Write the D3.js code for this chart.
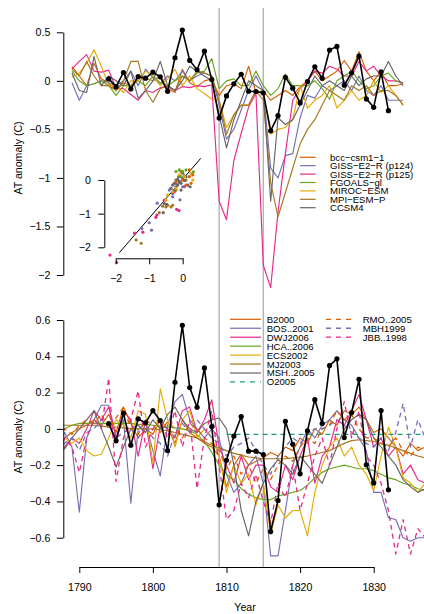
<!DOCTYPE html>
<html><head><meta charset="utf-8">
<script src="https://cdn.jsdelivr.net/npm/d3@7"></script>
<style>
body{margin:0;background:#fff;}
svg{display:block;font-family:"Liberation Sans",Arial,Helvetica,sans-serif;}
</style></head><body>
<svg id="c" width="424" height="614"></svg>
<script>
// ---------------- DATA ----------------
const volcanoYears = [1809, 1815];
const xTicks = [1790, 1800, 1810, 1820, 1830];
const topTicks = [0.5, 0, -0.5, -1, -1.5, -2];
const botTicks = [0.6, 0.4, 0.2, 0, -0.2, -0.4, -0.6];
const insetTicks = [0, -1, -2];

// observed series (black, with dots), 1794..1832
const obsStart = 1794;
const obsTop = [0.02,-0.06,0.086,-0.083,0.044,0.027,0.089,0.041,-0.108,0.238,
  0.523,0.21,0.114,0.306,0.013,-0.383,-0.155,-0.031,0.068,-0.107,
  -0.11,-0.124,-0.514,-0.359,0.037,-0.076,-0.228,-0.007,0.145,0.027,
  0.317,0.355,-0.045,0.083,0.255,-0.186,-0.273,0.093,-0.307];
const obsBot = [0.029,-0.066,0.086,-0.09,0.055,0.033,0.1,0.046,-0.12,0.257,
  0.571,0.228,0.119,0.336,0.013,-0.419,-0.173,-0.04,0.068,-0.123,
  -0.123,-0.142,-0.566,-0.395,0.042,-0.085,-0.248,-0.011,0.161,0.029,
  0.349,0.386,-0.048,0.09,0.273,-0.198,-0.298,0.101,-0.336];

// climate models, 1789..1834
const modelStart = 1789;
const modelNames = ["bcc\u2212csm1\u22121","GISS\u2212E2\u2212R (p124)","GISS\u2212E2\u2212R (p125)","FGOALS\u2212gl","MIROC\u2212ESM","MPI\u2212ESM\u2212P","CCSM4"];
const modelColors = ["#D95F02","#7570B3","#E7298A","#66A61E","#E6AB02","#A6761D","#666666"];
const bcc = [0.15,0.05,-0.05,0.18,0.02,-0.02,-0.10,-0.02,-0.05,0.05,
  0.03,0.00,0.05,-0.08,-0.12,0.12,-0.02,-0.06,0.00,0.02,
  -0.15,-0.05,-0.03,-0.08,0.15,-0.12,-0.10,-0.20,-0.15,-0.10,
  -0.15,-0.06,0.00,0.10,0.00,0.05,0.10,0.21,0.10,0.30,
  0.10,0.00,0.10,-0.05,-0.05,-0.03];
const gissP124 = [-0.02,-0.20,-0.05,-0.03,0.00,-0.02,-0.05,0.00,0.10,-0.05,
  0.12,0.03,-0.03,0.05,0.00,0.10,0.00,0.05,0.08,0.05,
  -0.25,-0.60,-0.50,-0.30,-0.10,0.05,-0.10,-0.90,-1.00,-0.77,
  -0.75,-0.38,-0.15,-0.18,-0.05,-0.10,-0.05,0.00,-0.10,0.05,
  -0.10,-0.15,-0.05,-0.20,-0.20,-0.20];
const gissP125 = [0.12,0.20,0.27,0.10,0.09,0.11,-0.08,-0.08,-0.14,-0.20,
  -0.10,-0.12,-0.07,-0.06,-0.10,-0.06,-0.07,-0.05,-0.06,-0.04,
  -1.24,-1.43,-0.82,-0.54,-0.27,-0.13,-1.90,-2.13,-1.35,-0.75,
  -0.20,-0.08,0.00,0.10,0.08,0.15,0.12,0.05,0.05,0.20,
  0.10,0.15,0.05,0.00,0.00,-0.02];
const fgoals = [0.10,0.00,-0.05,-0.03,0.00,-0.05,-0.15,-0.05,-0.05,0.00,
  -0.05,0.05,-0.02,-0.05,0.00,0.05,0.00,0.08,0.10,0.23,
  -0.08,0.00,0.02,-0.05,-0.05,0.10,-0.05,-0.15,-0.08,0.07,
  -0.05,-0.05,-0.05,0.00,-0.08,-0.19,0.00,0.05,0.10,0.00,
  -0.08,-0.05,0.05,0.08,0.00,-0.03];
const miroc = [0.04,0.08,0.18,0.32,0.15,-0.05,-0.05,-0.12,0.00,0.00,
  0.10,0.05,-0.05,0.02,0.12,-0.05,0.05,-0.08,-0.13,-0.19,
  -0.20,-0.48,-0.35,-0.25,-0.25,-0.10,-0.12,-0.55,-0.50,-0.48,
  -0.40,-0.05,-0.28,-0.20,-0.15,-0.05,-0.28,-0.20,-0.10,-0.20,
  -0.15,0.00,-0.12,-0.05,-0.15,-0.25];
const mpi = [0.12,0.05,0.20,0.05,-0.05,-0.05,-0.10,0.00,0.20,0.20,
  -0.10,-0.22,-0.08,-0.05,-0.10,0.05,0.00,0.10,0.08,0.05,
  -0.20,-0.55,-0.35,-0.25,-0.25,-0.10,-0.20,-1.05,-1.40,-1.15,
  -0.90,-0.65,-0.50,-0.40,-0.25,-0.10,-0.15,-0.20,-0.05,-0.10,
  -0.05,-0.15,-0.10,-0.10,-0.15,-0.25];
const ccsm4 = [0.08,-0.10,-0.12,0.25,-0.05,0.05,0.00,-0.05,0.10,-0.18,
  -0.10,0.00,0.20,-0.05,-0.10,0.00,0.15,0.10,0.05,0.00,
  -0.35,-0.69,-0.40,-0.20,0.00,-0.05,-0.10,-1.24,-0.38,-0.45,
  -0.40,-0.25,-0.10,0.05,-0.05,0.00,-0.05,-0.10,0.05,-0.05,
  0.02,0.05,0.05,0.20,0.05,-0.05];
const modelSeries = [bcc, gissP124, gissP125, fgoals, miroc, mpi, ccsm4];

// inset scatter (x, y, model index)
const scatX = [-2.17,-1.97,-1.44,-1.19,-0.80,-0.77,-0.18,-0.11,-0.55,-0.25,0.05,-0.10,
  -1.39,-1.24,-0.70,-0.50,-0.45,-0.35,-0.30,-0.60,-0.20,0.10,
  -1.22,-0.93,-1.00,-0.76,-0.08,-0.40,-0.20,-0.30,0.00,
  -0.58,-0.55,-0.48,-0.30,-0.25,-0.20,-0.15,-0.10,-0.05,0.00,0.05,-0.12,0.10,-0.30,-0.20,0.15,0.22,-0.05,-0.35,0.00,-0.25,-0.15,0.05,
  -0.50,-0.45,-0.30,-0.20,0.05,0.25,0.30,-0.10,
  -0.20,0.00,0.20,0.30,0.10,0.25,-0.05,0.20,
  -0.20,-0.10,0.00,0.10,-0.05,0.32];
const scatY = [-2.23,-2.45,-1.58,-1.55,-1.11,-1.04,-0.87,-0.91,-0.60,-0.35,-0.20,-0.05,
  -1.78,-1.88,-0.97,-0.80,-0.75,-0.80,-0.75,-0.78,-0.30,0.00,
  -1.44,-1.49,-1.27,-0.69,-0.59,-0.30,-0.10,-0.50,-0.20,
  -0.97,-0.70,-0.72,-0.40,-0.30,-0.20,-0.15,-0.05,-0.10,0.05,-0.02,0.10,0.10,-0.15,0.00,-0.15,-0.20,-0.30,-0.25,0.20,-0.10,0.02,0.12,
  -0.60,-0.45,-0.35,-0.25,0.10,0.20,0.00,0.15,
  -0.05,0.00,0.10,0.15,-0.15,-0.10,0.25,0.30,
  0.25,0.30,0.25,0.30,0.10,0.24];
const scatM = [2,2,2,2,2,2,2,2,2,2,2,2,
  5,5,5,5,5,5,5,5,5,5,
  1,1,1,1,1,1,1,1,1,
  6,6,6,6,6,6,6,6,6,6,6,6,6,6,6,6,6,6,6,6,6,6,6,
  4,4,4,4,4,4,4,4,
  0,0,0,0,0,0,0,0,
  3,3,3,3,3,3];
const fitX = [-1.89, 0.54];
const fitY = [-2.16, 0.645];

// reconstructions, 1786..1837
const reconStart = 1786;
const reconNames = ["B2000","BOS..2001","DWJ2006","HCA..2006","ECS2002","MJ2003","MSH..2005","O2005","RMO..2005","MBH1999","JBB..1998"];
const reconColors = ["#D95F02","#7570B3","#E7298A","#66A61E","#E6AB02","#A6761D","#666666","#1B9E77","#D95F02","#7570B3","#E7298A"];
const reconDashed = [false,false,false,false,false,false,false,true,true,true,true];
const B2000 = [-0.05,-0.08,-0.05,-0.02,0.00,0.02,0.05,0.02,0.08,-0.02,
  0.12,0.03,-0.05,0.00,-0.03,0.05,0.00,-0.08,0.05,-0.02,
  -0.05,-0.08,-0.10,-0.15,-0.32,-0.20,-0.14,-0.20,-0.18,-0.16,
  -0.13,-0.15,-0.10,-0.12,-0.05,-0.08,0.00,-0.03,0.05,0.02,
  0.10,0.08,0.12,0.05,-0.02,0.00,-0.05,-0.10,-0.15,-0.08,
  -0.12,-0.10];
const BOS2001 = [-0.05,-0.10,-0.02,-0.10,-0.46,-0.05,0.05,0.13,0.13,-0.05,
  0.05,-0.41,0.00,0.03,-0.12,-0.26,0.02,0.15,0.19,0.05,
  0.00,-0.05,0.00,-0.05,-0.25,-0.35,-0.30,-0.20,-0.15,-0.30,
  -0.70,-0.70,-0.45,-0.20,-0.10,0.00,-0.05,0.02,0.05,0.10,
  0.05,0.02,-0.05,-0.12,-0.35,-0.35,-0.49,-0.50,-0.60,-0.62,
  -0.60,-0.60];
const DWJ2006 = [-0.15,-0.12,-0.10,-0.05,-0.08,0.00,0.10,0.05,0.12,-0.05,
  0.10,0.05,-0.15,0.05,-0.22,0.02,0.00,-0.05,0.10,0.12,
  -0.02,0.05,0.16,-0.10,-0.20,-0.30,-0.15,-0.28,-0.20,-0.20,
  -0.32,-0.35,-0.20,-0.28,-0.15,-0.05,-0.30,-0.15,-0.10,0.05,
  0.02,0.10,0.19,0.05,-0.10,-0.05,-0.15,-0.10,-0.25,-0.20,
  -0.28,-0.30];
const HCA2006 = [-0.05,-0.03,0.00,0.02,0.03,0.03,0.03,0.03,0.03,0.03,
  0.03,0.03,0.025,0.025,0.02,0.015,0.01,0.005,0.00,-0.01,
  -0.03,-0.07,-0.13,-0.20,-0.25,-0.28,-0.33,-0.36,-0.38,-0.39,
  -0.39,-0.37,-0.36,-0.35,-0.34,-0.31,-0.27,-0.24,-0.22,-0.21,
  -0.20,-0.21,-0.22,-0.22,-0.23,-0.25,-0.27,-0.28,-0.30,-0.31,
  -0.33,-0.34];
const ECS2002 = [-0.10,-0.20,-0.05,-0.08,-0.05,-0.12,-0.15,-0.14,-0.05,0.05,
  0.02,-0.05,0.10,0.08,-0.19,0.22,0.05,-0.10,0.05,0.10,
  -0.05,0.00,-0.05,-0.15,-0.35,-0.20,-0.30,-0.25,-0.42,-0.30,
  -0.58,-0.42,-0.49,-0.45,-0.45,-0.59,-0.35,-0.20,-0.10,-0.05,
  -0.15,-0.10,-0.20,-0.25,-0.34,-0.15,0.01,-0.10,-0.27,-0.30,
  -0.35,-0.30];
const MJ2003 = [0.01,0.015,0.02,0.02,0.02,0.02,0.02,0.015,0.01,0.01,
  0.005,0.00,0.00,0.00,0.00,-0.005,-0.01,-0.02,-0.03,-0.04,
  -0.05,-0.07,-0.09,-0.105,-0.12,-0.135,-0.145,-0.155,-0.16,-0.165,
  -0.165,-0.165,-0.165,-0.16,-0.155,-0.15,-0.14,-0.13,-0.12,-0.10,
  -0.08,-0.065,-0.06,-0.065,-0.07,-0.08,-0.09,-0.105,-0.12,-0.135,
  -0.15,-0.16];
const MSH2005 = [-0.15,-0.12,-0.11,-0.05,0.00,0.05,0.10,0.00,-0.10,-0.21,
  -0.10,0.00,0.02,-0.02,0.05,0.00,0.08,0.12,0.05,0.00,
  -0.02,0.03,0.05,0.06,0.00,-0.20,-0.45,-0.59,-0.40,-0.30,
  -0.22,-0.17,-0.20,-0.25,-0.15,-0.20,-0.25,-0.30,-0.20,-0.10,
  0.00,0.05,0.08,0.05,-0.05,-0.10,-0.15,-0.20,-0.28,-0.32,
  -0.35,-0.33];
const O2005 = [null,null,null,null,null,null,null,null,null,null,
  null,null,null,null,null,null,null,null,null,null,
  null,null,null,null,-0.03,-0.03,-0.03,-0.03,-0.03,-0.03,
  -0.03,-0.03,-0.03,-0.03,-0.03,-0.03,-0.03,-0.03,-0.03,-0.03,
  -0.03,-0.03,-0.03,-0.03,-0.03,-0.03,-0.03,-0.03,-0.03,-0.03,
  -0.03,-0.03];
const RMO2005 = [-0.08,-0.05,0.00,-0.03,0.02,0.05,0.03,0.08,0.00,0.06,
  0.12,0.00,-0.03,0.05,0.02,-0.02,0.04,0.00,-0.05,0.03,
  0.00,-0.05,-0.08,-0.12,-0.22,-0.15,-0.25,-0.20,-0.30,-0.22,
  -0.28,-0.20,-0.15,-0.18,-0.10,-0.05,-0.08,0.00,0.02,0.10,
  0.05,0.08,0.00,-0.05,-0.05,-0.08,-0.10,-0.05,-0.12,-0.15,
  -0.10,-0.12];
const MBH1999 = [-0.05,-0.10,-0.08,-0.05,-0.12,-0.02,0.00,0.05,0.02,-0.05,
  -0.02,0.00,-0.05,0.02,-0.05,-0.08,-0.15,-0.02,0.03,-0.02,
  0.05,0.00,-0.05,-0.08,-0.15,-0.10,-0.08,-0.05,-0.12,-0.20,
  -0.25,-0.15,-0.10,-0.05,-0.08,-0.03,0.00,0.00,0.02,0.05,
  0.02,-0.02,-0.05,-0.08,-0.10,-0.05,-0.12,-0.02,0.14,-0.10,
  0.05,-0.05];
const JBB1998 = [-0.10,-0.15,-0.05,-0.10,-0.24,-0.05,0.05,0.00,0.28,-0.29,
  -0.05,0.05,0.21,-0.10,0.00,0.05,-0.05,0.10,-0.10,0.05,
  -0.33,-0.05,0.10,-0.20,-0.50,-0.45,-0.30,-0.38,-0.25,-0.40,
  -0.52,-0.30,-0.38,-0.20,-0.45,-0.30,-0.15,-0.05,-0.20,0.00,
  0.15,-0.05,0.10,-0.15,-0.20,-0.30,-0.45,-0.69,-0.50,-0.69,
  -0.55,-0.60];
const reconSeries = [B2000,BOS2001,DWJ2006,HCA2006,ECS2002,MJ2003,MSH2005,O2005,RMO2005,MBH1999,JBB1998];

// ---------------- DRAWING ----------------
const svg = d3.select("#c");
const F = 10.6, FL = 9.6;
const plotL = 63.3, plotR = 424;
const topP = {t: 8, b: 290}, botP = {t: 290, b: 567};

const x = d3.scaleLinear().domain([1790, 1830]).range([79.3, 373.7]);
const yT = d3.scaleLinear().domain([0.5, -2]).range([32.3, 275]);
const yB = d3.scaleLinear().domain([0.6, -0.6]).range([320, 537.7]);
const xi = d3.scaleLinear().domain([-2, 0]).range([115.7, 182.7]);
const yi = d3.scaleLinear().domain([0, -2]).range([180, 247.3]);

const defs = svg.append("defs");
defs.append("clipPath").attr("id","clipT").append("rect")
  .attr("x",plotL).attr("y",topP.t).attr("width",plotR-plotL).attr("height",topP.b-topP.t);
defs.append("clipPath").attr("id","clipB").append("rect")
  .attr("x",plotL).attr("y",botP.t).attr("width",plotR-plotL).attr("height",botP.b-botP.t);

// volcano lines
svg.append("g").selectAll("line").data(volcanoYears).join("line")
  .attr("x1",d=>x(d)).attr("x2",d=>x(d)).attr("y1",topP.t).attr("y2",botP.b)
  .attr("stroke","#b5b5b5").attr("stroke-width",1.4);

// ---- top panel ----
const gT = svg.append("g").attr("clip-path","url(#clipT)");
modelSeries.forEach((s,k)=>{
  const line = d3.line().x((d,i)=>x(modelStart+i)).y(d=>yT(d));
  gT.append("path").attr("d",line(s)).attr("fill","none")
    .attr("stroke",modelColors[k]).attr("stroke-width",1.15).attr("stroke-linejoin","round");
});
const obsLineT = d3.line().x((d,i)=>x(obsStart+i)).y(d=>yT(d));
gT.append("path").attr("d",obsLineT(obsTop)).attr("fill","none").attr("stroke","#000").attr("stroke-width",1.6);
gT.selectAll("circle").data(obsTop).join("circle")
  .attr("cx",(d,i)=>x(obsStart+i)).attr("cy",d=>yT(d)).attr("r",2.6).attr("fill","#000");

// ---- bottom panel ----
const gB = svg.append("g").attr("clip-path","url(#clipB)");
reconSeries.forEach((s,k)=>{
  const line = d3.line().defined(d=>d!==null).x((d,i)=>x(reconStart+i)).y(d=>yB(d));
  gB.append("path").attr("d",line(s)).attr("fill","none")
    .attr("stroke",reconColors[k]).attr("stroke-width",reconDashed[k]?1.3:1.15)
    .attr("stroke-dasharray",reconDashed[k]?"5,4":null).attr("stroke-linejoin","round");
});
const obsLineB = d3.line().x((d,i)=>x(obsStart+i)).y(d=>yB(d));
gB.append("path").attr("d",obsLineB(obsBot)).attr("fill","none").attr("stroke","#000").attr("stroke-width",1.6);
gB.selectAll("circle").data(obsBot).join("circle")
  .attr("cx",(d,i)=>x(obsStart+i)).attr("cy",d=>yB(d)).attr("r",2.6).attr("fill","#000");

// ---- axes ----
function styleAxis(g){
  g.selectAll("path,line").attr("stroke","#000");
  g.selectAll("text").attr("fill","#000").style("font-size",F+"px").attr("font-family",null);
}
const fmt = d => d===0 ? "0" : d3.format("~g")(d);
svg.append("g").attr("transform",`translate(${plotL},0)`)
  .call(d3.axisLeft(yT).tickValues(topTicks).tickSize(6.5).tickSizeOuter(0).tickPadding(6.5).tickFormat(fmt))
  .call(styleAxis);
svg.append("g").attr("transform",`translate(${plotL},0)`)
  .call(d3.axisLeft(yB).tickValues(botTicks).tickSize(6.5).tickSizeOuter(0).tickPadding(6.5)
    .tickFormat(d=> d===0 ? "0" : d3.format(".1f")(d)))
  .call(styleAxis);
svg.append("g").attr("transform",`translate(0,${botP.b})`)
  .call(d3.axisBottom(x).tickValues(xTicks).tickSize(6).tickSizeOuter(0).tickPadding(10).tickFormat(d3.format("d")))
  .call(styleAxis);

// axis titles
svg.append("text").attr("transform","translate(22,158) rotate(-90)").attr("text-anchor","middle")
  .style("font-size",F+"px").text("AT anomaly (C)");
svg.append("text").attr("transform","translate(22,437) rotate(-90)").attr("text-anchor","middle")
  .style("font-size",F+"px").text("AT anomaly (C)");
svg.append("text").attr("x",245).attr("y",611).attr("text-anchor","middle")
  .style("font-size",F+"px").text("Year");

// ---- inset ----
const gI = svg.append("g");
gI.append("line").attr("x1",xi(fitX[0])).attr("y1",yi(fitY[0])).attr("x2",xi(fitX[1])).attr("y2",yi(fitY[1]))
  .attr("stroke","#000").attr("stroke-width",1);
gI.selectAll("circle").data(scatX).join("circle")
  .attr("cx",d=>xi(d)).attr("cy",(d,i)=>yi(scatY[i])).attr("r",1.6)
  .attr("fill",(d,i)=>modelColors[scatM[i]]);
svg.append("g").attr("transform","translate(104.3,0)")
  .call(d3.axisLeft(yi).tickValues(insetTicks).tickSize(6).tickSizeOuter(0).tickPadding(7.5).tickFormat(fmt))
  .call(styleAxis);
svg.append("g").attr("transform","translate(0,258.3)")
  .call(d3.axisBottom(xi).tickValues(insetTicks).tickSize(6).tickSizeOuter(0).tickPadding(10).tickFormat(fmt))
  .call(styleAxis);

// ---- legends ----
const lgT = svg.append("g");
modelNames.forEach((n,k)=>{
  const yy = 157.3 + k*8.4;
  lgT.append("line").attr("x1",300).attr("x2",315.7).attr("y1",yy).attr("y2",yy)
    .attr("stroke",modelColors[k]).attr("stroke-width",1.2);
  lgT.append("text").attr("x",330).attr("y",yy).attr("dy","0.36em").style("font-size",FL+"px")
    .attr("textLength", null).text(n);
});
const lgB = svg.append("g");
reconNames.forEach((n,k)=>{
  const col = k<8 ? 0 : 1;
  const row = k<8 ? k : k-8;
  const yy = 319.3 + row*8.95;
  const x1 = col===0 ? 230 : 326, x2 = col===0 ? 261 : 353, tx = col===0 ? 266.7 : 362.7;
  lgB.append("line").attr("x1",x1).attr("x2",x2).attr("y1",yy).attr("y2",yy)
    .attr("stroke",reconColors[k]).attr("stroke-width",reconDashed[k]?1.3:1.2)
    .attr("stroke-dasharray",reconDashed[k]?"5,5":null);
  lgB.append("text").attr("x",tx).attr("y",yy).attr("dy","0.36em").style("font-size",FL+"px").text(n);
});
</script>
</body></html>
